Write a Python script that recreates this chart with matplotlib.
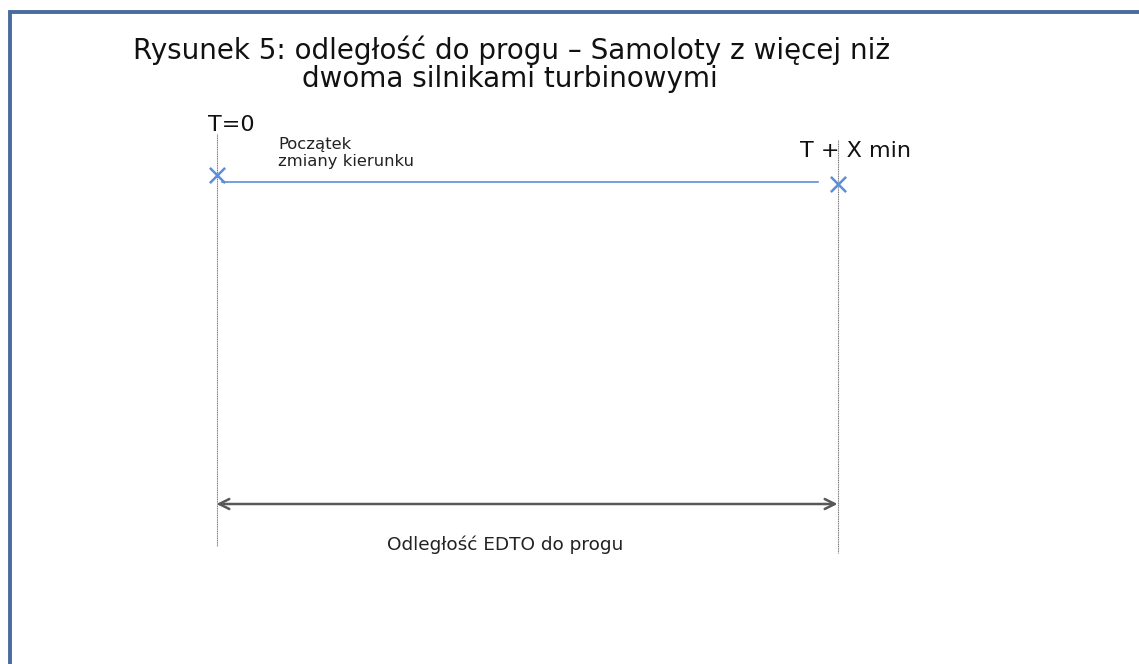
"""Diagram: EDTO distance to threshold for aeroplanes with more than two turbine engines."""

import matplotlib.pyplot as plt

# diagram content (pixel coordinates of the reference figure)
title_lines = [
    "Rysunek 5: odległość do progu – Samoloty z więcej niż",
    "dwoma silnikami turbinowymi",
]
event_labels = ["T=0", "T + X min"]
event_x = [216.5, 837.5]
marker_y = [175, 184]
track_y = 182
diversion_label = "Początek\nzmiany kierunku"
distance_label = "Odległość EDTO do progu"

BLUE = "#5b8fd8"
GREY = "#585858"
FRAME = "#4a6c9c"

# the reference lettering is wide, DejaVu Sans gets closest to its proportions
plt.rcParams["font.family"] = ["DejaVu Sans"]

fig = plt.figure(figsize=(11.39, 6.64), dpi=100, facecolor="white")
ax = fig.add_axes([0, 0, 1, 1])
ax.set_xlim(0, 1139)
ax.set_ylim(664, 0)
ax.axis("off")

# frame (runs off the right and bottom edges)
ax.plot([10, 10, 1139], [664, 12, 12], color=FRAME, lw=2.8, solid_joinstyle="miter")

# title
ax.text(512, 50, title_lines[0], ha="center", va="center", fontsize=20, color="#111111")
ax.text(510, 79, title_lines[1], ha="center", va="center", fontsize=20, color="#111111")

# vertical time markers
ax.plot([event_x[0]] * 2, [134, 546], color="#777777", lw=0.8, ls=(0, (1, 0.6)))
ax.plot([event_x[1]] * 2, [140, 553], color="#777777", lw=0.8, ls=(0, (1, 0.6)))

ax.text(event_x[0] - 8, 125, event_labels[0], ha="left", va="center", fontsize=16, color="#111111")
ax.text(800, 151, event_labels[1], ha="left", va="center", fontsize=16, color="#111111")

# diversion track
ax.plot([event_x[0] + 5, 818], [track_y, track_y], color=BLUE, lw=1.2)
ax.scatter(event_x, marker_y, marker="x", s=120, color=BLUE, linewidths=1.8, zorder=3)
ax.text(278, 153, diversion_label, ha="left", va="center", fontsize=11.8,
        color="#222222", linespacing=1.1)

# EDTO distance
ax.annotate("", xy=(event_x[0], 504), xytext=(event_x[1], 504),
            arrowprops=dict(arrowstyle="<->", color=GREY, lw=1.8,
                            mutation_scale=18, shrinkA=0, shrinkB=0))
ax.text(505, 545, distance_label, ha="center", va="center", fontsize=13.3, color="#222222")

fig.savefig("out.png", dpi=100, facecolor="white")
plt.close(fig)
